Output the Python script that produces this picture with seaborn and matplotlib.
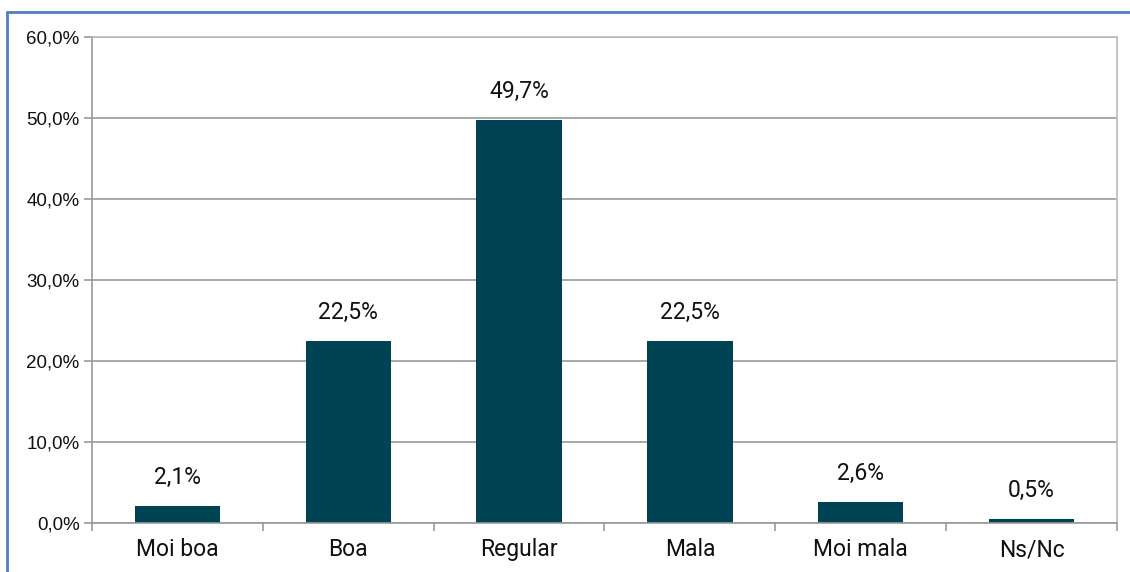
import pandas as pd
import matplotlib.pyplot as plt
import seaborn as sns
from matplotlib.lines import Line2D
from matplotlib.ticker import FuncFormatter, FixedLocator

# survey answers (percent)
categories = ['Moi boa', 'Boa', 'Regular', 'Mala', 'Moi mala', 'Ns/Nc']
values = [2.1, 22.5, 49.7, 22.5, 2.6, 0.5]

df = pd.DataFrame({'cat': categories, 'pct': values})

sns.set_style('white')
plt.rcParams['font.family'] = ['Roboto', 'DejaVu Sans']

fig = plt.figure(figsize=(11.3, 5.72), dpi=100)
ax = fig.add_axes([92 / 1130, 1 - 523 / 572, (1117 - 92) / 1130, (523 - 37) / 572])

sns.barplot(data=df, x='cat', y='pct', color='#004355', width=0.5, ax=ax,
            saturation=1, linewidth=0)

ax.set_ylim(0, 60)
ax.set_xlim(-0.5, len(categories) - 0.5)
ax.set_yticks(range(0, 61, 10))
ax.yaxis.set_major_formatter(FuncFormatter(lambda v, p: f'{v:.1f}'.replace('.', ',') + '%'))
ax.grid(axis='y', color='#999999', linewidth=1.2)
ax.set_axisbelow(True)
ax.set_xlabel('')
ax.set_ylabel('')

for s in ['left', 'bottom', 'right', 'top']:
    ax.spines[s].set_visible(True)
    ax.spines[s].set_color('#999999')
    ax.spines[s].set_linewidth(1.2)
ax.spines['top'].set_color('#bbbbbb')
ax.spines['right'].set_color('#bbbbbb')

# tick marks at category boundaries on x
ax.xaxis.set_minor_locator(FixedLocator([i - 0.5 for i in range(len(categories) + 1)]))
ax.tick_params(axis='x', which='major', length=0, pad=11, labelsize=16.5, labelcolor='#111111')
ax.tick_params(axis='x', which='minor', bottom=True, length=6, width=1.2, color='#999999', direction='out')
ax.tick_params(axis='y', left=True, length=6, width=1.2, color='#999999', direction='out', pad=3)
for lab in ax.get_yticklabels():
    lab.set_fontfamily('Liberation Sans')
    lab.set_fontsize(13.5)
    lab.set_color('#111111')

for i, v in enumerate(values):
    ax.text(i, v + 2.1, f'{v:.1f}'.replace('.', ',') + '%', ha='center', va='bottom',
            fontsize=16.5, color='#111111')

# blue frame (left and top edges)
fig.add_artist(Line2D([6.5 / 1130, 6.5 / 1130], [0, 1 - 12 / 572], transform=fig.transFigure,
                      color='#4f81bd', linewidth=2))
fig.add_artist(Line2D([6.5 / 1130, 1], [1 - 12 / 572, 1 - 12 / 572], transform=fig.transFigure,
                      color='#4f81bd', linewidth=2))

fig.savefig('out.png', dpi=100)
